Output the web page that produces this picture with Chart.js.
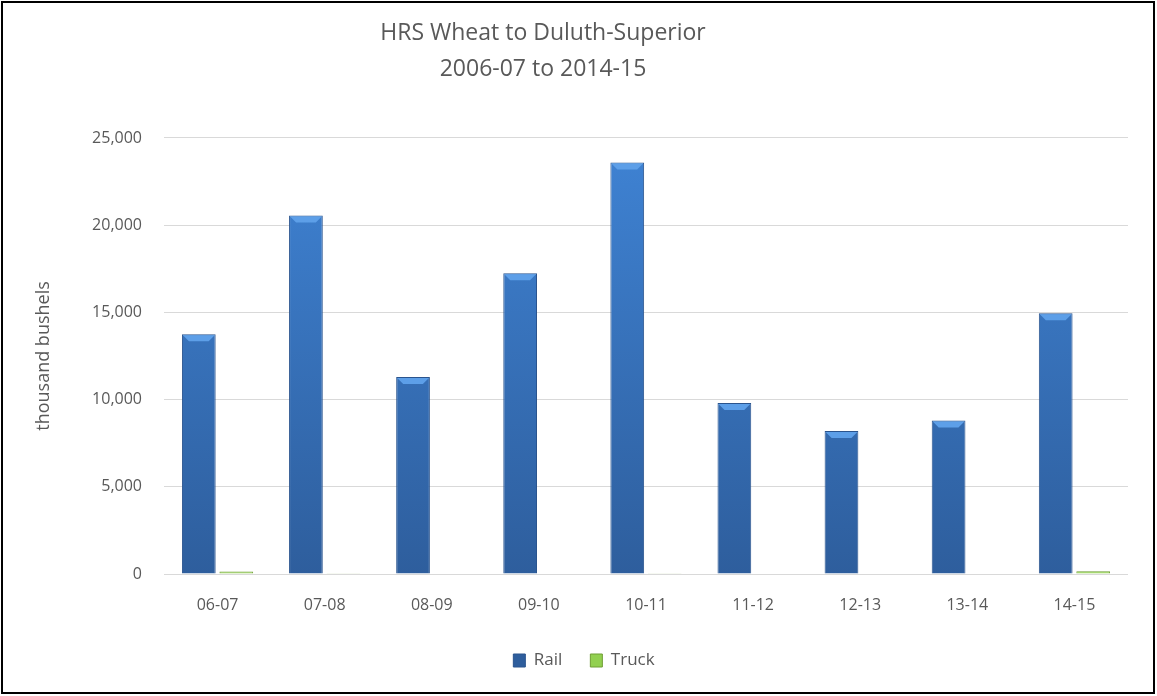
<!DOCTYPE html>
<html>
<head>
<meta charset="utf-8">
<script src="https://cdn.jsdelivr.net/npm/chart.js@4/dist/chart.umd.min.js"></script>
<style>
  html, body { margin: 0; padding: 0; background: #fff; }
  #wrap { position: relative; width: 1157px; height: 696px; }
  #frame { position: absolute; left: 1px; top: 1px; width: 1154px; height: 693px;
           box-sizing: border-box; border: 2px solid #000; pointer-events: none; }
</style>
</head>
<body>
<div id="wrap">
  <canvas id="grafico" width="1157" height="696"></canvas>
  <div id="frame"></div>
</div>
<script>
// temporadas (anos-safra)
const categorias = ['06-07', '07-08', '08-09', '09-10', '10-11', '11-12', '12-13', '13-14', '14-15'];
// mil bushels
const ferrovia = [13750, 20550, 11300, 17250, 23600, 9800, 8200, 8800, 14950];
const caminhao = [150, 40, 0, 0, 40, 0, 0, 0, 160];
const titulo = ['HRS Wheat to Duluth-Superior', '2006-07 to 2014-15'];

const cinza = '#595959';
const fonte = '"Open Sans", Lato, sans-serif';

function gradienteAzul(context) {
    const chart = context.chart;
    const area = chart.chartArea;
    if (!area) return '#3a78c6';
    const g = chart.ctx.createLinearGradient(0, area.top, 0, area.bottom);
    g.addColorStop(0, '#3f83d4');
    g.addColorStop(1, '#2e5e9d');
    return g;
}

// desloca titulo e legenda como no original do Excel
const ajusteBlocos = {
    id: 'ajusteBlocos',
    afterLayout(chart) {
        if (chart.titleBlock) { chart.titleBlock.left -= 21; chart.titleBlock.right -= 21; }
        if (chart.legend) { chart.legend.left += 20; chart.legend.right += 20; }
    }
};

// "tampa" clara no topo das barras de ferrovia (efeito bisel)
const bisel = {
    id: 'bisel',
    afterDatasetsDraw(chart) {
        const c = chart.ctx;
        chart.getDatasetMeta(0).data.forEach(bar => {
            const w = bar.width, x0 = bar.x - w / 2, x1 = bar.x + w / 2, y = bar.y;
            c.save();
            c.fillStyle = '#5d9fe8';
            c.beginPath();
            c.moveTo(x0 + 1, y + 1);
            c.lineTo(x1 - 1, y + 1);
            c.lineTo(x1 - 7, y + 7);
            c.lineTo(x0 + 7, y + 7);
            c.closePath();
            c.fill();
            c.restore();
        });
    }
};

const ctx = document.getElementById('grafico').getContext('2d');
new Chart(ctx, {
    type: 'bar',
    data: {
        labels: categorias,
        datasets: [
            { label: 'Rail', data: ferrovia, backgroundColor: gradienteAzul,
              borderColor: '#2a548e', borderWidth: 1 },
            { label: 'Truck', data: caminhao, backgroundColor: '#92d050',
              borderColor: '#6f9e35', borderWidth: 1 }
        ]
    },
    options: {
        responsive: false,
        animation: false,
        layout: { padding: { left: 0, right: 29, top: 0, bottom: 17 } },
        categoryPercentage: 0.7,
        barPercentage: 0.9,
        plugins: {
            title: {
                display: true,
                text: titulo,
                color: cinza,
                font: { family: fonte, size: 23, weight: 'normal', lineHeight: 1.565 },
                padding: { top: 15, bottom: 51 }
            },
            legend: {
                display: true,
                position: 'bottom',
                labels: {
                    color: cinza,
                    font: { family: fonte, size: 17 },
                    boxWidth: 12,
                    boxHeight: 13,
                    padding: 28
                }
            },
            tooltip: { enabled: false }
        },
        scales: {
            x: {
                grid: { display: false, drawTicks: false },
                border: { display: false },
                ticks: { color: cinza, font: { family: fonte, size: 16 }, padding: 22 },
                afterFit(scale) { scale.height = 50; }
            },
            y: {
                min: 0,
                max: 25000,
                ticks: {
                    stepSize: 5000,
                    color: cinza,
                    font: { family: fonte, size: 16 },
                    padding: 22,
                    callback: v => v.toLocaleString('en-US')
                },
                grid: { color: '#d9d9d9', lineWidth: 1, drawTicks: false },
                border: { display: false },
                title: {
                    display: true,
                    text: 'thousand bushels',
                    color: cinza,
                    font: { family: fonte, size: 18 },
                    padding: { top: 33, bottom: 0 }
                },
                afterFit(scale) { scale.width = 164; }
            }
        }
    },
    plugins: [ajusteBlocos, bisel]
});
</script>
</body>
</html>
